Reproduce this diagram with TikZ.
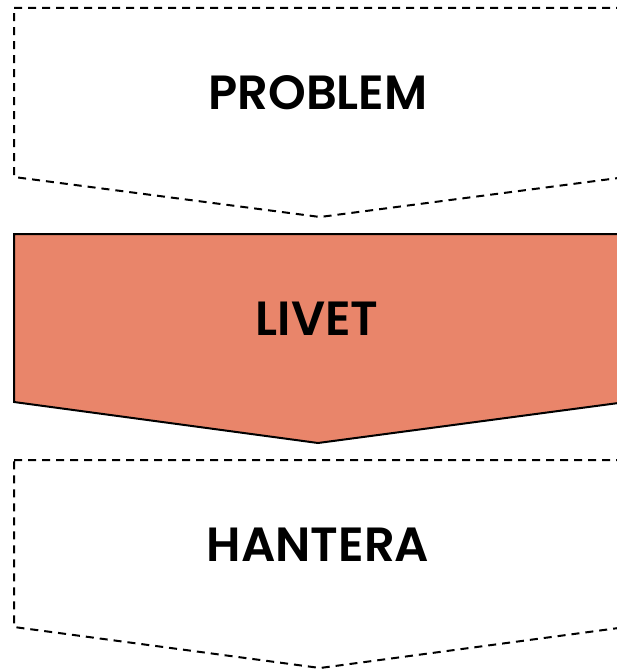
\documentclass[tikz,border=0pt]{standalone}
\usepackage{fontspec}
\setmainfont{Poppins}[BoldFont={Poppins SemiBold}]
\definecolor{salmon}{HTML}{E9856A}
\begin{document}
\begin{tikzpicture}[x=1pt,y=-1pt,
  dashbox/.style={draw=black,line width=2pt,dash pattern=on 8pt off 6pt,fill=white},
  solidbox/.style={draw=black,line width=2pt,fill=salmon},
  lab/.style={font=\bfseries\fontsize{48}{48}\selectfont,inner sep=0pt}]
\useasboundingbox (0,0) rectangle (617,671);
\begin{scope}
\clip (0,0) rectangle (617,671);
\draw[dashbox] (14,8) -- (626,8) -- (626,177) -- (320,217) -- (14,177) -- cycle;
\draw[solidbox] (14,234) -- (626,234) -- (626,402) -- (318,443) -- (14,402) -- cycle;
\draw[dashbox] (14,460) -- (626,460) -- (626,627) -- (320,668) -- (14,627) -- cycle;
\end{scope}
\node[lab] (p) at (318,93) {PROBLEM};
\node[lab] (l) at (317,319) {LIVET};
\node[lab] (h) at (318,545) {HANTERA};
\end{tikzpicture}
\end{document}
